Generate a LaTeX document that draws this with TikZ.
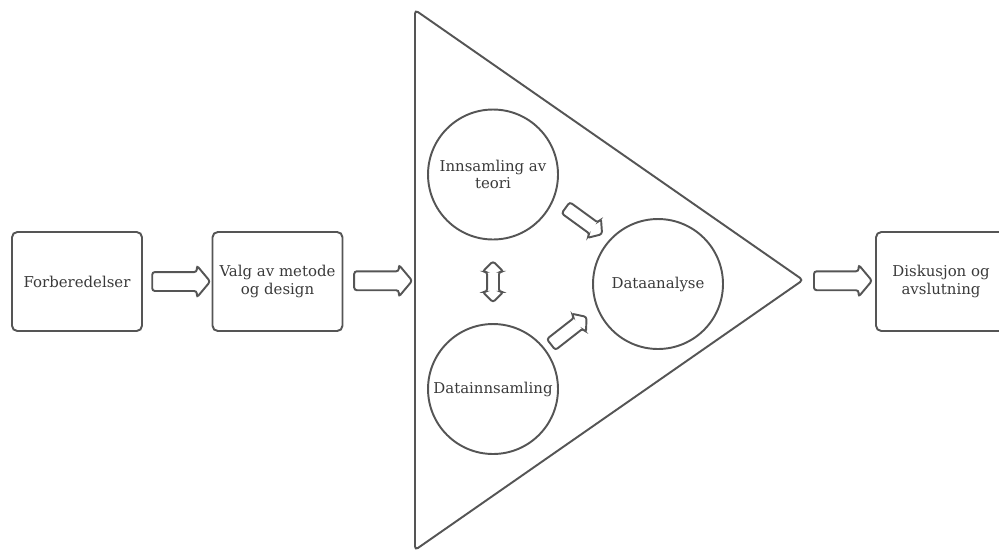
\documentclass[tikz,border=0pt]{standalone}
\usepackage{fontspec}
\setmainfont{DejaVu Serif}
\usetikzlibrary{
    shapes.arrows,
    calc
}
\definecolor{linegray}{HTML}{555555}
\definecolor{textgray}{HTML}{3A3A3A}
\tikzset{
    % Lines and text
    object style/.style={draw=linegray,line width=1.1pt},
    label text/.style={text=textgray,font=\fontsize{8.5}{10}\selectfont,align=center},
    %
    % Boxes and circles
    step box/.style={object style,label text,rounded corners=3pt,minimum width=2.6cm,minimum height=1.98cm},
    phase/.style={object style,label text,circle,minimum size=2.6cm,inner sep=0pt},
    %
    % Block arrows
    block arrow/.style={object style,single arrow,rounded corners=1.5pt,inner xsep=0pt,
        inner ysep=#1/2,single arrow tip angle=100},
    big arrow/.style={block arrow=.34cm,minimum height=1.16cm,single arrow head extend=.13cm},
    small arrow/.style={block arrow=.24cm,minimum height=.9cm,single arrow head extend=.1cm},
    both arrow/.style={object style,double arrow,rounded corners=1.5pt,inner xsep=0pt,
        inner ysep=.1cm,double arrow tip angle=90,double arrow head extend=.09cm,minimum height=.82cm}
}

\begin{document}
\begin{tikzpicture}[x=.02cm,y=-.02cm]
    \useasboundingbox (0,0) rectangle (999,552);

    % process steps
    \node[step box] (prep) at (77,281.5) {Forberedelser};
    \node[step box] (method) at (277.5,281.5) {Valg av metode\\og design};
    \node[step box] (disc) at (941,281.5) {Diskusjon og\\avslutning};

    % triangle with the three phases
    \coordinate (top) at (415,10);
    \coordinate (bottom) at (415,550);
    \coordinate (tip) at (803,280);
    \draw[object style,rounded corners=2pt] (top) -- (tip) -- (bottom) -- cycle;
    \node[phase] (theory) at (493,174.5) {Innsamling av\\teori};
    \node[phase] (collect) at (493,389) {Datainnsamling};
    \node[phase] (analysis) at (658,284) {Dataanalyse};

    % arrows
    \node[big arrow] (a1) at ($(prep.east)!.5!(method.west)$) {};
    \node[big arrow] (a2) at ($(method.east)!.5!($(top)!.5!(bottom)$)$) {};
    \node[big arrow] (a3) at ($(tip)!.5!(disc.west)$) {};
    \node[both arrow,rotate=90] (a4) at ($(theory.south)!.5!(collect.north)$) {};
    \node[small arrow,rotate=-36] (a5) at ($(theory)!.5!(analysis)+(6,-10)$) {};
    \node[small arrow,rotate=38] (a6) at ($(collect)!.5!(analysis)+(-9,-4)$) {};
\end{tikzpicture}
\end{document}
